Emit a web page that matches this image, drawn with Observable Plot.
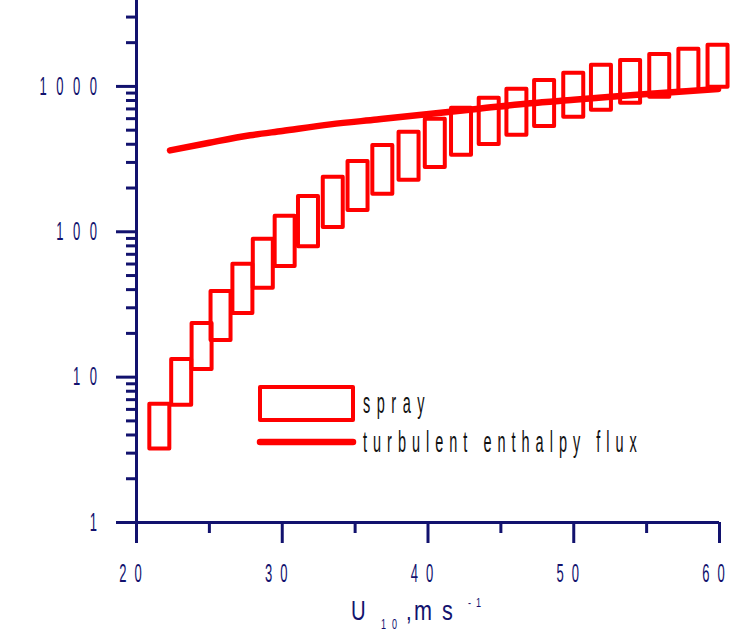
<!DOCTYPE html>
<html><head><meta charset="utf-8">
<script src="https://cdn.jsdelivr.net/npm/d3@7"></script>
<script src="https://cdn.jsdelivr.net/npm/@observablehq/plot@0.6"></script>
<style>
html,body{margin:0;padding:0;background:#fff;}
</style></head><body><div id="chart"></div>
<script>
// spray boxes: wind speed U10 (box centre) and the low / high ends of each box
const sprayU    = [21.6, 23.1, 24.5, 25.8, 27.3, 28.7, 30.2, 31.8, 33.5, 35.2, 36.9, 38.7, 40.5, 42.3, 44.2, 46.1, 48.0, 50.0, 51.9, 53.9, 55.9, 57.9, 59.9];
const sprayLow  = [3.2, 6.4, 11.3, 17.9, 27.4, 40.8, 57.8, 79, 107, 140, 181, 226, 277, 336, 399, 461, 531, 613, 685, 765, 841, 925, 986];
const sprayHigh = [6.5, 13.2, 23.4, 38.9, 59.7, 88.7, 128, 175, 237, 305, 393, 483, 594, 707, 828, 955, 1100, 1230, 1400, 1510, 1660, 1800, 1920];
// turbulent enthalpy flux curve
const fluxU     = [22.3, 25, 27.8, 30, 33.3, 36.5, 39.9, 43.5, 47, 50, 53.2, 56.5, 59.9];
const fluxValue = [363, 410, 461, 494, 548, 592, 643, 702, 765, 809, 859, 907, 960];
// ticks
const xMajor = [20, 30, 40, 50, 60];
const xMinor = [25, 35, 45, 55];
const yMajor = [1, 10, 100, 1000];
const yMinor = [2,3,4,5,6,7,8,9,20,30,40,50,60,70,80,90,200,300,400,500,600,700,800,900,2000,3000];
const seriesNames = ["spray", "turbulent enthalpy flux"];

const spray = sprayU.map((u, i) => ({u, lo: sprayLow[i], hi: sprayHigh[i]}));
const flux = fluxU.map((u, i) => ({u, v: fluxValue[i]}));

const navy = "#12126e";
const halfW = 0.686;

const chart = Plot.plot({
  width: 732, height: 635,
  marginLeft: 136, marginRight: 13, marginTop: 0, marginBottom: 113,
  style: {fontFamily: "Liberation Sans, Arial, sans-serif", background: "white", overflow: "visible"},
  x: {domain: [20, 60]},
  y: {type: "log", domain: [1, 3900]},
  marks: [
    Plot.axisX({ticks: xMinor, tickSize: 11, tickFormat: () => "", color: navy, strokeWidth: 3, label: null}),
    Plot.axisX({ticks: xMajor, tickSize: 21, tickPadding: 20, tickFormat: d => String(d), fontSize: 26, color: navy, strokeWidth: 3, label: null}),
    Plot.axisY({ticks: yMinor, tickSize: 10, tickFormat: () => "", color: navy, strokeWidth: 3, label: null}),
    Plot.axisY({ticks: yMajor, tickSize: 20, tickPadding: 10, tickFormat: d => String(d), fontSize: 26, color: navy, strokeWidth: 3, label: null}),
    Plot.ruleX([20], {stroke: navy, strokeWidth: 3}),
    Plot.ruleY([1], {stroke: navy, strokeWidth: 3}),
    Plot.line(flux, {x: "u", y: "v", stroke: "#ff0000", strokeWidth: 6.5, strokeLinecap: "round", curve: "monotone-x"}),
    Plot.rect(spray, {x1: d => d.u - halfW, x2: d => d.u + halfW, y1: "lo", y2: "hi", stroke: "#ff0000", strokeWidth: 4, fill: "none", strokeLinejoin: "round"})
  ]
});
document.getElementById("chart").appendChild(chart);

const svg = d3.select(chart);
function squeeze(sel, sx, ls, shift) {
  sel.each(function() {
    const t = d3.select(this);
    let tr = t.attr("transform");
    if (!tr) {
      const x = +t.attr("x") || 0, y = +t.attr("y") || 0;
      tr = `translate(${x},${y})`;
      t.attr("x", null).attr("y", null);
    }
    t.attr("transform", `translate(${shift},0) ` + tr + ` scale(${sx},1)`).style("letter-spacing", ls + "px");
  });
}
squeeze(svg.selectAll('g[aria-label="y-axis tick label"] text'), 0.5, 19, 0);
squeeze(svg.selectAll('g[aria-label="x-axis tick label"] text'), 0.5, 16, -2);

// legend
const lg = svg.append("g").attr("text-anchor", "start");
lg.append("rect").attr("x", 260).attr("y", 387).attr("width", 93).attr("height", 33)
  .attr("fill", "none").attr("stroke", "#ff0000").attr("stroke-width", 4).attr("stroke-linejoin", "round");
lg.append("line").attr("x1", 260).attr("x2", 353).attr("y1", 442).attr("y2", 442)
  .attr("stroke", "#ff0000").attr("stroke-width", 6.5).attr("stroke-linecap", "round");
lg.append("text").attr("transform", "translate(363,413) scale(0.5,1)").attr("font-size", 29)
  .style("letter-spacing", "13px").attr("fill", "#111").text(seriesNames[0]);
lg.append("text").attr("transform", "translate(363,452) scale(0.5,1)").attr("font-size", 29)
  .style("letter-spacing", "12px").attr("fill", "#111").text(seriesNames[1]);

// axis title  U10, m s-1
const parts = [
  {t: "U",  x: 351, y: 620, s: 27, sx: 0.75, ls: 0},
  {t: "10", x: 381, y: 629, s: 15, sx: 0.6, ls: 10},
  {t: ",",  x: 406, y: 620, s: 27, sx: 0.75, ls: 0},
  {t: "m",  x: 414, y: 620, s: 27, sx: 0.8, ls: 0},
  {t: "s",  x: 442, y: 620, s: 27, sx: 0.8, ls: 0},
  {t: "-1", x: 468, y: 607, s: 13, sx: 0.7, ls: 7}
];
const tg = svg.append("g").attr("fill", navy).attr("text-anchor", "start");
parts.forEach(p => {
  tg.append("text").attr("transform", `translate(${p.x},${p.y}) scale(${p.sx},1)`)
    .attr("font-size", p.s).style("letter-spacing", p.ls + "px").text(p.t);
});
</script>
</body></html>
